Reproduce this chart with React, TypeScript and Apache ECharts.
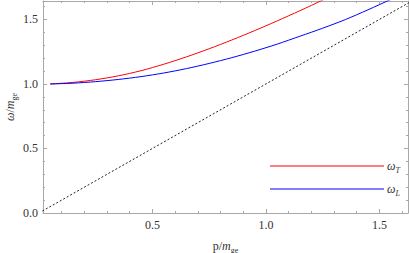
import React, { useEffect, useRef } from "react";
import * as echarts from "echarts";

// momentum p/m_ge
const pT = [0.05, 0.15, 0.25, 0.35, 0.45, 0.55, 0.65, 0.75, 0.85, 0.95, 1.05, 1.15, 1.25, 1.35];
// omega_T / m_ge
const wT = [1.0, 1.012, 1.033, 1.063, 1.103, 1.153, 1.21, 1.273, 1.341, 1.413, 1.489, 1.568, 1.65, 1.735];
const pL = [0.05, 0.15, 0.25, 0.35, 0.45, 0.55, 0.65, 0.75, 0.85, 0.95, 1.05, 1.15, 1.25, 1.35, 1.45, 1.55, 1.65];
// omega_L / m_ge
const wL = [1.0, 1.006, 1.018, 1.035, 1.057, 1.085, 1.119, 1.159, 1.204, 1.254, 1.309, 1.37, 1.432, 1.499, 1.575, 1.655, 1.738];
// light cone omega = p
const pDiag = [0, 1.7];
const wDiag = [0, 1.7];

const xMajor = [0.5, 1.0, 1.5];
const yMajor = [0.0, 0.5, 1.0, 1.5];
const minorTicks = [0.1, 0.2, 0.3, 0.4, 0.5, 0.6, 0.7, 0.8, 0.9, 1.0, 1.1, 1.2, 1.3, 1.4, 1.5, 1.6];

const X_MIN = 0.018;
const X_MAX = 1.626;
const Y_MIN = 0;
const Y_MAX = 1.643;

const FRAME = "#a8a8a8";
const SERIF = "'Liberation Serif', 'DejaVu Serif', serif";

const richStyles = {
  w: { fontFamily: SERIF, fontStyle: "italic", fontSize: 12, color: "#333", lineHeight: 16 },
  n: { fontFamily: SERIF, fontSize: 12, color: "#333", lineHeight: 16 },
  m: { fontFamily: SERIF, fontStyle: "italic", fontSize: 12, color: "#333", lineHeight: 16 },
  s: { fontFamily: SERIF, fontStyle: "italic", fontSize: 8, color: "#333", lineHeight: 9, verticalAlign: "bottom" },
  g: { fontFamily: SERIF, fontSize: 8, color: "#333", lineHeight: 9, verticalAlign: "bottom" },
};

function makeX(position: "bottom" | "top", ticks: number[], len: number, main: boolean, labels: boolean) {
  return {
    type: "value",
    position,
    min: X_MIN,
    max: X_MAX,
    splitLine: { show: false },
    axisLine: { show: main, onZero: false, lineStyle: { color: FRAME, width: 1 } },
    axisTick: { show: true, inside: true, length: len, customValues: ticks, lineStyle: { color: FRAME, width: 1 } },
    axisLabel: labels
      ? {
          show: true,
          customValues: xMajor,
          formatter: (v: number) => v.toFixed(1),
          fontFamily: SERIF,
          fontSize: 12,
          color: "#333",
          margin: 6,
        }
      : { show: false },
    name: labels ? "{n|p/}{m|m}{g|ge}" : "",
    nameLocation: "middle",
    nameGap: 25,
    nameMoveOverlap: false,
    nameTextStyle: { rich: richStyles },
  };
}

function makeY(position: "left" | "right", ticks: number[], len: number, main: boolean, labels: boolean) {
  return {
    type: "value",
    position,
    min: Y_MIN,
    max: Y_MAX,
    splitLine: { show: false },
    axisLine: { show: main, onZero: false, lineStyle: { color: FRAME, width: 1 } },
    axisTick: { show: true, inside: true, length: len, customValues: ticks, lineStyle: { color: FRAME, width: 1 } },
    axisLabel: labels
      ? {
          show: true,
          customValues: yMajor,
          formatter: (v: number) => v.toFixed(1),
          fontFamily: SERIF,
          fontSize: 12,
          color: "#333",
          margin: 5,
        }
      : { show: false },
    name: labels ? "{w|ω}{n|/}{m|m}{g|ge}" : "",
    nameLocation: "middle",
    nameGap: 25,
    nameMoveOverlap: false,
    nameRotate: 90,
    nameTextStyle: { rich: richStyles },
  };
}

export default function App() {
  const ref = useRef<HTMLDivElement>(null);
  useEffect(() => {
    if (!ref.current) return;
    const chart = echarts.init(ref.current, null, { renderer: "svg" });
    const zip = (a: number[], b: number[]) => a.map((v, i) => [v, b[i]]);
    chart.setOption({
      animation: false,
      backgroundColor: "#ffffff",
      grid: { left: 43, right: 1, top: 1, bottom: 40, containLabel: false, outerBoundsMode: "none" },
      xAxis: [
        makeX("bottom", xMajor, 4, true, true),
        makeX("bottom", minorTicks, 2, false, false),
        makeX("top", xMajor, 4, true, false),
        makeX("top", minorTicks, 2, false, false),
      ],
      yAxis: [
        makeY("left", yMajor, 4, true, true),
        makeY("left", minorTicks, 2, false, false),
        makeY("right", yMajor, 4, true, false),
        makeY("right", minorTicks, 2, false, false),
      ],
      legend: {
        data: [
          { name: "wT", icon: "rect", itemStyle: { color: "#ff0000" } },
          { name: "wL", icon: "rect", itemStyle: { color: "#0000ff" } },
        ],
        orient: "vertical",
        left: 265,
        top: 155,
        itemWidth: 114,
        itemHeight: 1,
        itemGap: 9,
        selectedMode: false,
        formatter: (name: string) => (name === "wT" ? "{w|ω}{s|T}" : "{w|ω}{s|L}"),
        textStyle: { rich: richStyles, padding: [0, 0, 0, -2] },
      },
      series: [
        {
          name: "diag",
          type: "line",
          data: zip(pDiag, wDiag),
          symbol: "none",
          lineStyle: { color: "#222", width: 1, type: [2, 2] },
          clip: true,
        },
        {
          name: "wT",
          type: "line",
          data: zip(pT, wT),
          symbol: "none",
          smooth: 0.3,
          color: "#ff0000",
          lineStyle: { color: "#ff0000", width: 1 },
          clip: true,
        },
        {
          name: "wL",
          type: "line",
          data: zip(pL, wL),
          symbol: "none",
          smooth: 0.3,
          color: "#0000ff",
          lineStyle: { color: "#0000ff", width: 1 },
          clip: true,
        },
      ],
    });
    return () => chart.dispose();
  }, []);
  return (
    <div
      ref={ref}
      style={{ position: "fixed", left: 0, top: 0, width: 409, height: 253, background: "#fff" }}
    />
  );
}
